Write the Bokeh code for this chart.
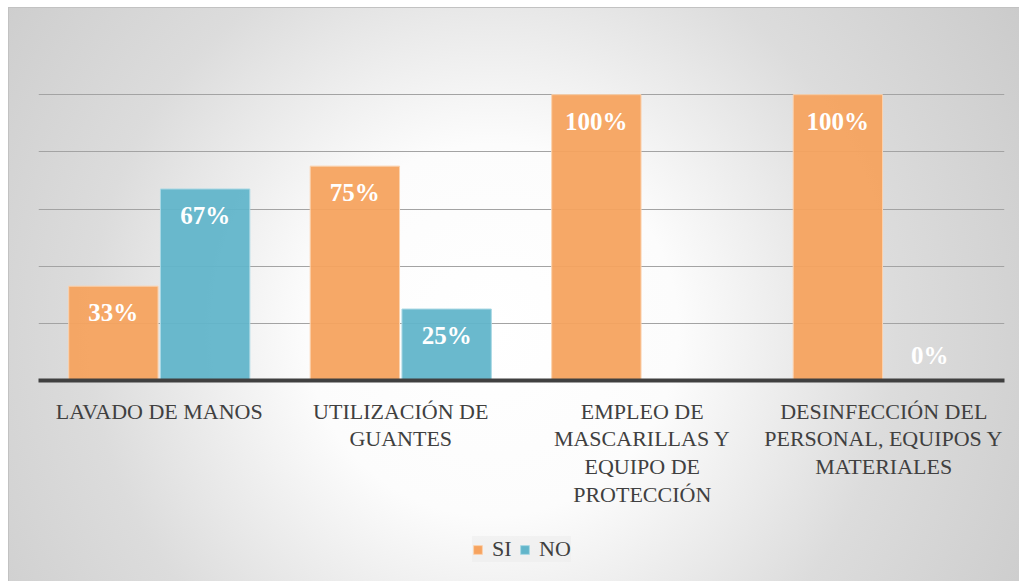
from bokeh.plotting import figure
from bokeh.layouts import column
from bokeh.models import ColumnDataSource, FactorRange, Range1d, Legend, LegendItem, Grid, FixedTicker
from bokeh.transform import dodge
from bokeh.core.properties import value
from bokeh.embed import file_html
from bokeh.resources import INLINE

categories = ["LAVADO DE MANOS",
              "UTILIZACIÓN DE\nGUANTES",
              "EMPLEO DE\nMASCARILLAS Y\nEQUIPO DE\nPROTECCIÓN",
              "DESINFECCIÓN DEL\nPERSONAL, EQUIPOS Y\nMATERIALES"]
series = ["SI", "NO"]
si_values = [0.33, 0.75, 1.00, 1.00]
no_values = [0.67, 0.25, float("nan"), 0.00]
si_labels = ["33%", "75%", "100%", "100%"]
no_labels = ["67%", "25%", "", "0%"]
grid_ticks = [0.0, 0.2, 0.4, 0.6, 0.8, 1.0, 1.2]

SI_COLOR = "#f6a35f"
NO_COLOR = "#62b5ca"
SI_EDGE = "#fbd2ae"
NO_EDGE = "#a9d8e4"
SERIF = "Liberation Serif"
TEXT_COLOR = "#404040"

def offsets(vals):
    return [13 if (v == v and v > 0) else -39 for v in vals]

src = ColumnDataSource(dict(
    cat=categories, si=si_values, no=no_values,
    si_lab=si_labels, no_lab=no_labels,
    si_off=offsets(si_values), no_off=offsets(no_values),
))

p = figure(width=1019, height=520, x_range=FactorRange(*categories),
           y_range=Range1d(0, 1.2), output_backend="svg", toolbar_location=None,
           y_axis_location=None, tools="")
p.min_border_left = 38
p.min_border_right = 15
p.min_border_top = 37
p.min_border_bottom = 140
p.background_fill_color = None
p.border_fill_color = None
p.outline_line_color = None

p.xgrid.visible = False
p.ygrid.visible = False
p.add_layout(Grid(dimension=1, ticker=FixedTicker(ticks=grid_ticks),
                  grid_line_color="#a3a3a3", grid_line_width=1))

r_si = p.vbar(x=dodge("cat", -0.19, range=p.x_range), top="si", width=0.37, source=src,
              fill_color=SI_COLOR, fill_alpha=0.95, line_color=SI_EDGE, line_width=1)
r_no = p.vbar(x=dodge("cat", 0.19, range=p.x_range), top="no", width=0.37, source=src,
              fill_color=NO_COLOR, fill_alpha=0.95, line_color=NO_EDGE, line_width=1)

for col, lab, off, dx in [("si", "si_lab", "si_off", -0.19), ("no", "no_lab", "no_off", 0.19)]:
    p.text(x=dodge("cat", dx, range=p.x_range), y=col, text=lab, source=src,
           y_offset=off, text_align="center", text_baseline="top",
           text_color="white", text_font=value(SERIF), text_font_style="bold",
           text_font_size="25px")

ax = p.xaxis[0]
ax.axis_line_color = TEXT_COLOR
ax.axis_line_width = 4
ax.major_tick_line_color = None
ax.minor_tick_line_color = None
ax.major_label_standoff = 12
ax.major_label_text_font = SERIF
ax.major_label_text_font_size = "22px"
ax.major_label_text_color = TEXT_COLOR
ax.major_label_text_line_height = 1.11

# legend strip below the chart (its bars lie outside its visible y range)
lg = figure(width=1019, height=61, x_range=FactorRange(*categories), y_range=Range1d(5, 6),
            output_backend="svg", toolbar_location=None, tools="",
            x_axis_location=None, y_axis_location=None)
lg.min_border = 0
lg.background_fill_color = None
lg.border_fill_color = None
lg.outline_line_color = None
lg.xgrid.visible = False
lg.ygrid.visible = False
l_si = lg.vbar(x="cat", top="si", width=0.37, source=src,
               fill_color=SI_COLOR, line_color=SI_EDGE)
l_no = lg.vbar(x="cat", top="no", width=0.37, source=src,
               fill_color=NO_COLOR, line_color=NO_EDGE)

legend = Legend(items=[LegendItem(label=series[0], renderers=[l_si]),
                       LegendItem(label=series[1], renderers=[l_no])],
                orientation="horizontal", location=(434, 19))
legend.background_fill_color = "#ececec"
legend.background_fill_alpha = 0.6
legend.border_line_color = None
legend.glyph_width = 11
legend.glyph_height = 11
legend.label_standoff = 9
legend.spacing = 7
legend.padding = 11
legend.margin = 0
legend.label_text_font = SERIF
legend.label_text_font_size = "22px"
legend.label_text_color = TEXT_COLOR
lg.add_layout(legend, "center")

layout = column(p, lg, spacing=0)
layout.styles = {
    "background": ("linear-gradient(#c2c2c2, #c2c2c2) 8px 7px / 1px 100% no-repeat, "
                   "linear-gradient(#c2c2c2, #c2c2c2) 8px 7px / 100% 1px no-repeat, "
                   "radial-gradient(circle 620px at 484px 323px, #ffffff 0%, #fcfcfc 30%, #dcdcdc 65%, #cbcbcb 100%) 8px 7px / 100% 100% no-repeat, "
                   "#ffffff"),
}

open("out.html", "w").write(file_html(layout, INLINE))
